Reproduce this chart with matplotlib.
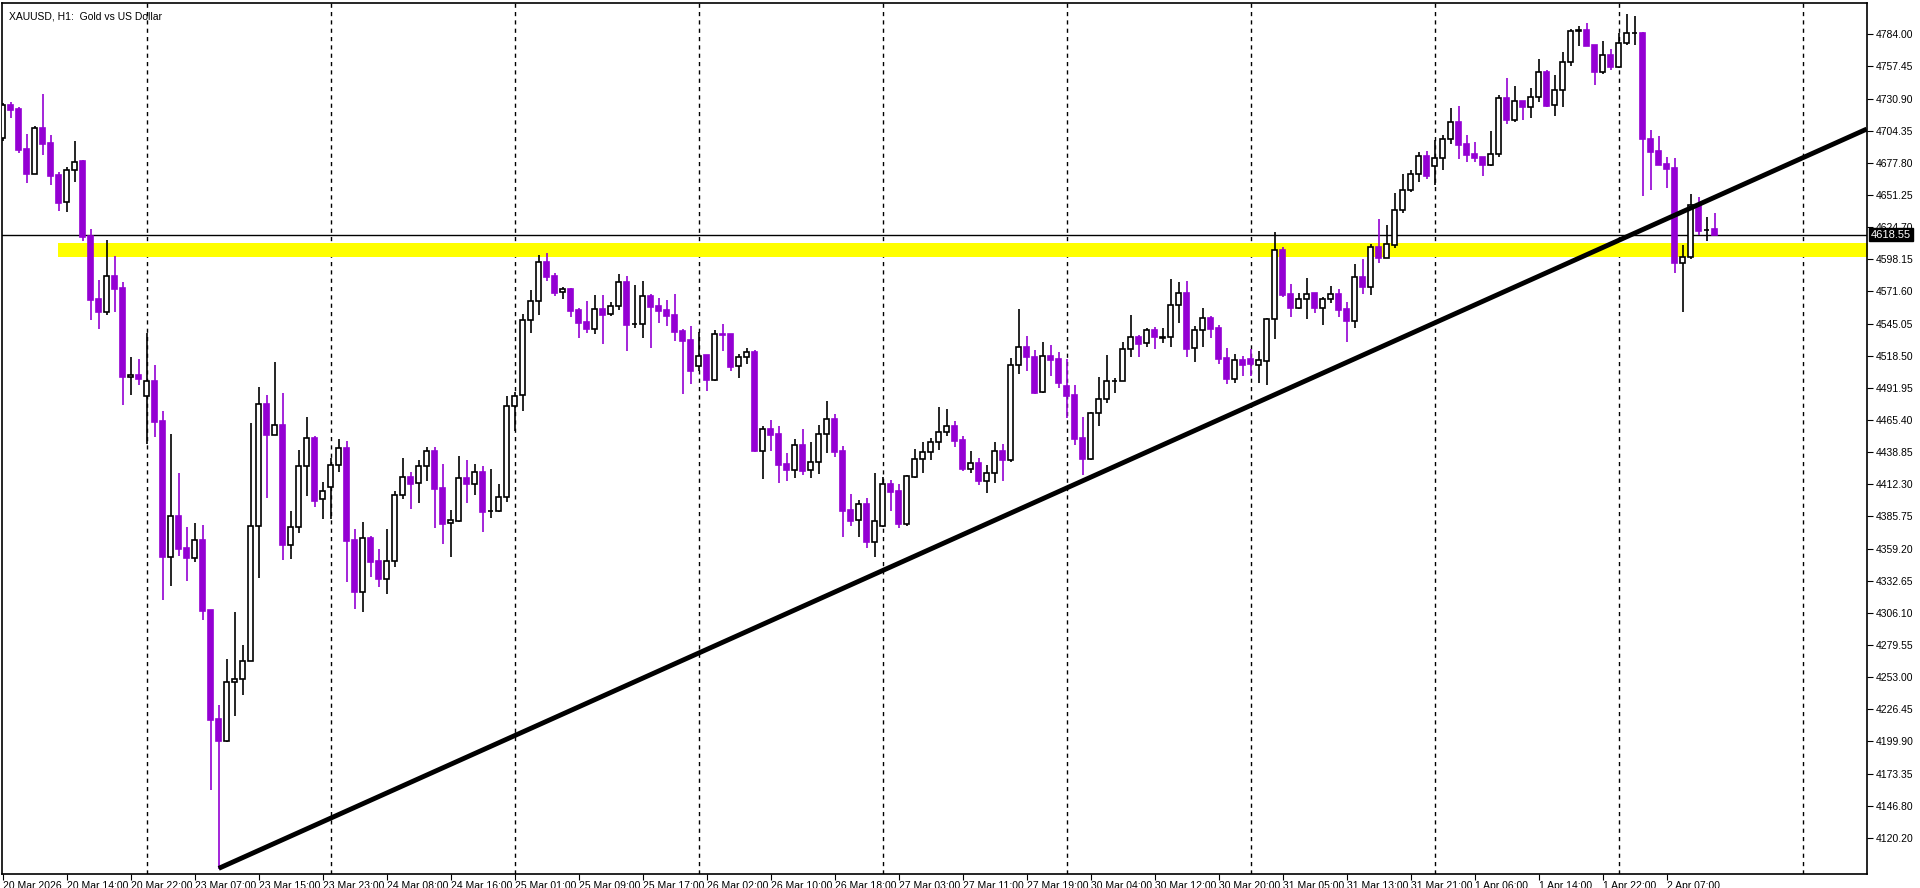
import matplotlib
matplotlib.use("Agg")
import matplotlib.pyplot as plt
import numpy as np

# hourly XAUUSD candles, 20 Mar 06:00 .. 2 Apr 13:00
opens = [
    4698.1, 4725.2, 4722.4, 4689.4, 4668.9, 4706.4, 4694.3, 4667.8, 4645.3, 4671.7,
    4679.0, 4617.4, 4565.3, 4554.2, 4584.0, 4574.3, 4500.6, 4502.7, 4485.4, 4498.0,
    4464.7, 4352.1, 4386.3, 4359.6, 4351.4, 4366.2, 4308.4, 4218.1, 4200.5, 4248.8,
    4251.3, 4266.4, 4377.5, 4478.2, 4453.4, 4461.6, 4362.4, 4376.7, 4427.1, 4450.5,
    4399.8, 4409.7, 4427.9, 4442.0, 4366.2, 4323.5, 4367.9, 4348.9, 4334.3, 4348.6,
    4403.1, 4418.3, 4413.0, 4427.1, 4439.7, 4409.2, 4380.0, 4382.2, 4417.4, 4412.8,
    4422.4, 4390.0, 4390.5, 4401.6, 4476.6, 4485.7, 4547.7, 4563.4, 4595.6, 4584.3,
    4570.8, 4573.3, 4556.2, 4546.3, 4540.3, 4557.1, 4552.7, 4559.3, 4579.1, 4544.6,
    4544.9, 4567.8, 4559.5, 4556.2, 4552.1, 4538.9, 4531.4, 4509.7, 4518.8, 4498.7,
    4536.1, 4536.4, 4509.7, 4517.1, 4521.5, 4440.0, 4457.9, 4453.8, 4429.0, 4424.3,
    4444.7, 4423.8, 4430.4, 4453.5, 4466.2, 4439.7, 4391.0, 4382.5, 4396.0, 4364.8,
    4378.1, 4412.2, 4406.4, 4379.4, 4418.5, 4432.9, 4438.6, 4446.9, 4455.2, 4460.4,
    4448.8, 4425.1, 4429.5, 4415.2, 4421.3, 4439.5, 4432.0, 4510.5, 4525.4, 4517.4,
    4488.2, 4518.2, 4515.7, 4493.4, 4486.0, 4450.2, 4433.4, 4471.1, 4482.4, 4497.5,
    4497.9, 4523.7, 4533.7, 4528.7, 4539.7, 4533.5, 4533.6, 4560.1, 4570.3, 4524.6,
    4539.4, 4549.3, 4541.3, 4516.6, 4499.5, 4514.9, 4515.5, 4511.1, 4514.4, 4548.5,
    4605.5, 4569.4, 4558.2, 4565.6, 4570.3, 4557.9, 4565.1, 4569.4, 4557.1, 4547.4,
    4583.5, 4575.5, 4608.0, 4599.5, 4610.2, 4638.6, 4655.1, 4668.3, 4683.2, 4674.9,
    4681.5, 4697.2, 4711.3, 4693.4, 4685.1, 4682.6, 4676.3, 4684.8, 4731.1, 4713.5,
    4728.6, 4723.6, 4731.9, 4752.8, 4725.3, 4737.7, 4761.1, 4786.9, 4787.5, 4775.4,
    4753.1, 4766.6, 4756.7, 4776.5, 4784.8, 4784.8, 4697.2, 4687.6, 4676.8, 4673.2,
    4594.8, 4599.7, 4643.2, 4622.2, 4622.9,
]
highs = [
    4727.0, 4728.0, 4723.8, 4701.6, 4708.2, 4735.0, 4700.9, 4670.3, 4674.5, 4696.0,
    4680.0, 4623.0, 4581.3, 4614.0, 4600.7, 4579.5, 4517.3, 4516.0, 4537.5, 4510.5,
    4472.9, 4454.0, 4421.4, 4377.2, 4380.3, 4378.7, 4308.4, 4229.7, 4268.3, 4306.9,
    4279.9, 4462.8, 4492.6, 4485.7, 4513.3, 4487.6, 4390.3, 4440.6, 4467.8, 4452.1,
    4414.1, 4434.0, 4449.7, 4448.0, 4375.3, 4381.1, 4369.5, 4358.8, 4375.3, 4406.7,
    4434.0, 4422.4, 4432.3, 4443.1, 4443.1, 4429.0, 4391.0, 4435.6, 4432.3, 4429.0,
    4427.3, 4424.9, 4412.5, 4485.2, 4488.8, 4552.9, 4572.8, 4601.4, 4603.3, 4586.5,
    4575.0, 4574.4, 4557.9, 4563.7, 4568.6, 4568.6, 4562.8, 4586.0, 4584.3, 4576.9,
    4580.2, 4569.5, 4566.1, 4564.5, 4569.5, 4540.8, 4543.0, 4538.0, 4518.8, 4539.7,
    4544.7, 4536.4, 4519.9, 4524.8, 4523.2, 4460.4, 4465.4, 4460.4, 4437.8, 4449.4,
    4457.6, 4447.2, 4461.2, 4480.8, 4470.3, 4443.9, 4404.2, 4399.3, 4400.9, 4421.3,
    4418.5, 4415.8, 4412.5, 4419.9, 4441.4, 4447.2, 4450.2, 4476.4, 4474.2, 4464.5,
    4452.1, 4439.7, 4433.7, 4428.2, 4447.2, 4445.3, 4516.9, 4557.1, 4534.7, 4523.2,
    4529.8, 4527.3, 4521.5, 4515.5, 4494.3, 4467.8, 4472.2, 4500.9, 4519.0, 4500.3,
    4530.1, 4552.1, 4535.3, 4541.1, 4541.9, 4541.1, 4581.8, 4579.6, 4580.2, 4543.0,
    4557.6, 4551.0, 4543.8, 4525.1, 4519.9, 4518.2, 4524.3, 4522.6, 4549.6, 4620.7,
    4608.3, 4577.7, 4570.0, 4582.4, 4570.3, 4566.7, 4576.1, 4573.6, 4562.8, 4594.2,
    4598.4, 4610.5, 4631.7, 4626.5, 4652.6, 4668.6, 4671.9, 4686.8, 4687.6, 4696.7,
    4700.8, 4723.1, 4724.8, 4700.8, 4695.0, 4682.6, 4704.1, 4733.8, 4747.9, 4741.3,
    4728.6, 4739.3, 4763.6, 4754.5, 4750.6, 4769.6, 4788.6, 4790.8, 4793.0, 4775.4,
    4778.5, 4771.6, 4785.3, 4800.8, 4799.1, 4786.2, 4704.9, 4700.0, 4682.6, 4681.8,
    4609.9, 4652.0, 4649.3, 4633.0, 4636.6,
]
lows = [
    4696.0, 4714.8, 4685.6, 4661.2, 4668.2, 4684.5, 4659.8, 4638.3, 4636.9, 4661.9,
    4612.9, 4547.9, 4540.9, 4552.4, 4554.8, 4477.7, 4486.4, 4494.0, 4445.3, 4451.5,
    4316.9, 4328.5, 4352.7, 4332.6, 4348.0, 4300.0, 4159.7, 4094.7, 4199.6, 4220.9,
    4238.2, 4266.0, 4334.5, 4400.7, 4452.8, 4349.5, 4350.5, 4372.3, 4402.8, 4393.7,
    4383.8, 4384.0, 4422.7, 4331.8, 4309.2, 4307.0, 4335.9, 4327.7, 4321.3, 4344.2,
    4400.4, 4392.1, 4397.1, 4415.2, 4376.4, 4363.2, 4352.5, 4381.1, 4397.1, 4403.4,
    4372.8, 4384.7, 4389.6, 4397.9, 4456.5, 4472.8, 4537.5, 4552.4, 4580.5, 4568.1,
    4565.6, 4550.2, 4533.4, 4537.5, 4536.7, 4528.1, 4551.6, 4556.5, 4522.6, 4541.6,
    4533.4, 4525.1, 4545.8, 4543.0, 4530.9, 4487.1, 4495.1, 4506.1, 4489.6, 4498.0,
    4522.6, 4506.1, 4500.3, 4511.9, 4439.0, 4416.9, 4440.0, 4413.6, 4415.2, 4417.7,
    4419.9, 4417.7, 4421.0, 4438.4, 4435.1, 4368.4, 4377.8, 4369.0, 4359.9, 4352.4,
    4377.2, 4390.4, 4376.4, 4378.0, 4417.2, 4421.8, 4432.3, 4440.6, 4452.4, 4443.3,
    4423.5, 4421.8, 4411.7, 4404.8, 4413.6, 4415.2, 4430.9, 4503.4, 4506.1, 4486.8,
    4487.7, 4501.7, 4491.8, 4467.0, 4445.0, 4419.9, 4432.3, 4460.1, 4479.7, 4487.4,
    4497.9, 4517.1, 4517.1, 4525.9, 4524.3, 4528.7, 4526.0, 4545.8, 4517.7, 4513.5,
    4526.0, 4533.4, 4511.6, 4495.0, 4496.0, 4501.7, 4501.7, 4496.0, 4494.0, 4532.5,
    4566.7, 4550.7, 4557.0, 4548.5, 4554.0, 4544.1, 4561.7, 4550.7, 4530.1, 4541.3,
    4569.4, 4568.9, 4595.1, 4599.5, 4607.5, 4636.4, 4653.7, 4662.0, 4664.4, 4659.8,
    4671.9, 4693.4, 4681.0, 4678.5, 4678.5, 4667.2, 4675.4, 4682.9, 4709.9, 4711.3,
    4713.2, 4714.8, 4728.3, 4724.2, 4716.5, 4723.9, 4758.1, 4774.6, 4774.6, 4742.1,
    4751.5, 4754.5, 4755.9, 4775.1, 4775.1, 4650.7, 4655.4, 4676.0, 4657.3, 4587.1,
    4554.8, 4598.0, 4617.9, 4613.5, 4618.6,
]
closes = [
    4725.2, 4721.7, 4688.7, 4668.9, 4706.4, 4693.6, 4667.2, 4644.9, 4671.7, 4678.3,
    4616.7, 4564.6, 4554.2, 4584.0, 4574.0, 4500.6, 4502.7, 4499.2, 4498.0, 4464.1,
    4352.1, 4386.0, 4358.6, 4351.1, 4366.2, 4307.8, 4217.4, 4200.5, 4249.1, 4251.6,
    4266.4, 4377.5, 4478.2, 4453.4, 4461.6, 4362.4, 4376.7, 4427.1, 4450.2, 4398.7,
    4406.4, 4427.9, 4442.0, 4365.7, 4323.5, 4367.6, 4348.3, 4334.3, 4348.6, 4403.1,
    4418.0, 4412.5, 4427.1, 4439.7, 4408.6, 4379.7, 4382.5, 4417.2, 4412.8, 4422.1,
    4389.4, 4390.5, 4401.5, 4476.6, 4484.9, 4547.7, 4563.4, 4595.6, 4583.8, 4570.6,
    4573.3, 4555.7, 4545.8, 4540.3, 4556.8, 4552.4, 4559.3, 4579.1, 4544.1, 4544.7,
    4567.5, 4558.7, 4555.7, 4551.3, 4538.3, 4530.9, 4506.1, 4517.9, 4498.7, 4536.1,
    4535.5, 4509.4, 4517.1, 4521.3, 4440.0, 4457.6, 4453.2, 4428.5, 4424.0, 4444.4,
    4423.5, 4430.4, 4453.8, 4465.9, 4439.2, 4390.5, 4382.2, 4395.7, 4364.8, 4381.6,
    4412.2, 4406.1, 4379.4, 4418.8, 4432.9, 4438.9, 4447.2, 4455.2, 4460.1, 4448.3,
    4425.1, 4429.5, 4415.2, 4421.3, 4439.5, 4432.0, 4510.5, 4525.4, 4517.1, 4487.7,
    4517.9, 4515.2, 4496.2, 4485.5, 4449.9, 4433.4, 4471.1, 4482.4, 4497.3, 4497.9,
    4523.7, 4533.7, 4528.1, 4539.7, 4533.7, 4533.9, 4560.1, 4570.0, 4524.3, 4539.4,
    4549.3, 4540.8, 4516.0, 4499.5, 4514.9, 4510.5, 4511.6, 4514.6, 4548.8, 4605.5,
    4568.9, 4557.9, 4565.6, 4569.8, 4557.9, 4565.1, 4569.2, 4556.2, 4547.4, 4583.2,
    4575.5, 4608.0, 4599.5, 4610.5, 4638.6, 4655.4, 4668.3, 4683.2, 4666.9, 4681.5,
    4697.2, 4711.3, 4692.8, 4684.3, 4682.1, 4676.3, 4684.8, 4731.1, 4713.5, 4728.6,
    4723.6, 4731.9, 4752.6, 4724.8, 4738.0, 4761.1, 4786.4, 4787.0, 4774.6, 4753.1,
    4766.6, 4757.2, 4776.5, 4784.8, 4784.9, 4697.2, 4687.0, 4676.3, 4673.0, 4594.8,
    4599.7, 4643.2, 4621.8, 4622.4, 4618.6,
]

time_labels = [
    "20 Mar 2026", "20 Mar 14:00", "20 Mar 22:00", "23 Mar 07:00", "23 Mar 15:00",
    "23 Mar 23:00", "24 Mar 08:00", "24 Mar 16:00", "25 Mar 01:00", "25 Mar 09:00",
    "25 Mar 17:00", "26 Mar 02:00", "26 Mar 10:00", "26 Mar 18:00", "27 Mar 03:00",
    "27 Mar 11:00", "27 Mar 19:00", "30 Mar 04:00", "30 Mar 12:00", "30 Mar 20:00",
    "31 Mar 05:00", "31 Mar 13:00", "31 Mar 21:00", "1 Apr 06:00", "1 Apr 14:00",
    "1 Apr 22:00", "2 Apr 07:00",
]
price_labels = [
    "4784.00", "4757.45", "4730.90", "4704.35", "4677.80", "4651.25", "4624.70",
    "4598.15", "4571.60", "4545.05", "4518.50", "4491.95", "4465.40", "4438.85",
    "4412.30", "4385.75", "4359.20", "4332.65", "4306.10", "4279.55", "4253.00",
    "4226.45", "4199.90", "4173.35", "4146.80", "4120.20",
]
day_starts = [18, 41, 64, 87, 110, 133, 156, 179, 202, 225]

last_price = 4618.55
zone_low, zone_high = 4600.3, 4611.3
trend_x = [27, 233]
trend_y = [4095.0, 4705.7]

BEAR = "#9400d3"
FONT = ["Liberation Sans", "DejaVu Sans"]

fig = plt.figure(figsize=(19.2, 8.88), dpi=100)
ax = fig.add_axes([2 / 1920, 14 / 888, 1865 / 1920, 871 / 888])
ax.set_xlim(-0.09, 233.04)
ax.set_ylim(4090.35, 4809.86)

for d in day_starts:
    ax.axvline(d, color="black", lw=1, ls=(0, (3, 3)), zorder=1)

ax.fill_between([6.9, 240], zone_low, zone_high, color="#ffff00", lw=0, zorder=2)
ax.axhline(last_price, color="black", lw=1, zorder=2)

o = np.array(opens)
h = np.array(highs)
l = np.array(lows)
c = np.array(closes)
x = np.arange(len(o))
up = c >= o

ax.vlines(x[up], l[up], h[up], color="black", lw=1.2, zorder=3)
ax.vlines(x[~up], l[~up], h[~up], color=BEAR, lw=1.2, zorder=3)
body_lo = np.minimum(o, c)
body_h = np.maximum(np.abs(c - o), 0.4)
ax.bar(x[up], body_h[up], 0.6, bottom=body_lo[up], facecolor="white",
       edgecolor="black", lw=1.2, zorder=4)
ax.bar(x[~up], body_h[~up], 0.6, bottom=body_lo[~up], facecolor=BEAR,
       edgecolor=BEAR, lw=1.2, zorder=4)

ax.plot(trend_x, trend_y, color="black", lw=3.5, solid_capstyle="butt", zorder=5)

ax.set_xticks(np.arange(len(time_labels)) * 8)
ax.set_xticklabels(time_labels, ha="left", fontsize=7.5, family=FONT)
ax.tick_params(axis="x", length=4, pad=1)
ax.yaxis.tick_right()
ax.set_yticks([float(v) for v in price_labels])
ax.set_yticklabels(price_labels, fontsize=7.5, family=FONT)
ax.tick_params(axis="y", length=4, pad=2)
for s in ax.spines.values():
    s.set_linewidth(1.2)

ax.text(0.004, 0.99, "XAUUSD, H1:  Gold vs US Dollar", transform=ax.transAxes,
        fontsize=7.5, va="top", ha="left", family=FONT)
ax.text(1.002, last_price, f"{last_price:.2f}", transform=ax.get_yaxis_transform(),
        fontsize=8, color="white", va="center", ha="left", zorder=10, family=FONT,
        bbox=dict(boxstyle="square,pad=0.15", fc="black", ec="black"))

fig.savefig("out.png", dpi=100, facecolor="white")
